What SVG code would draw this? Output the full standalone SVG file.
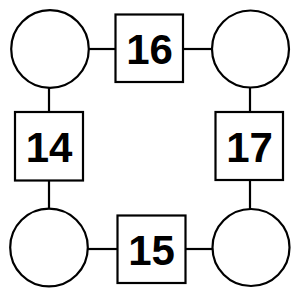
<svg xmlns="http://www.w3.org/2000/svg" width="300" height="300" viewBox="0 0 300 300">
<style>
.c{fill:#fff;stroke:#000;stroke-width:2.2}
.b{fill:#fff;stroke:#000;stroke-width:2.2}
.l{stroke:#000;stroke-width:2.2;fill:none}
.t{font-family:"Liberation Sans",Arial,sans-serif;font-weight:bold;font-size:42px;text-anchor:middle;fill:#000}
</style>
<rect width="300" height="300" fill="#fff"/>
<g id="connectors">
<line class="l" x1="89" y1="49" x2="116" y2="49"/>
<line class="l" x1="183" y1="49" x2="212" y2="49"/>
<line class="l" x1="49" y1="88" x2="49" y2="112"/>
<line class="l" x1="250" y1="88" x2="250" y2="112"/>
<line class="l" x1="49" y1="180" x2="49" y2="209"/>
<line class="l" x1="250" y1="180" x2="250" y2="209"/>
<line class="l" x1="88" y1="249" x2="117" y2="249"/>
<line class="l" x1="186" y1="249" x2="213" y2="249"/>
</g>
<g id="circle-tl"><circle class="c" cx="50" cy="49" r="38.8"/></g>
<g id="circle-tr"><circle class="c" cx="250.5" cy="49" r="38.5"/></g>
<g id="circle-bl"><circle class="c" cx="49" cy="247.5" r="38.8"/></g>
<g id="circle-br"><circle class="c" cx="251" cy="247.5" r="38.5"/></g>
<g id="box-16"><rect class="b" x="115.5" y="14.5" width="67.5" height="67.5"/><text class="t" x="149.5" y="63.5">16</text></g>
<g id="box-14"><rect class="b" x="15" y="112" width="68" height="68.5"/><text class="t" x="49" y="161.8">14</text></g>
<g id="box-17"><rect class="b" x="215.5" y="112" width="67.5" height="68"/><text class="t" x="249.5" y="161.5">17</text></g>
<g id="box-15"><rect class="b" x="117.5" y="215.5" width="68" height="67.5"/><text class="t" x="151.5" y="264.5">15</text></g>
</svg>
